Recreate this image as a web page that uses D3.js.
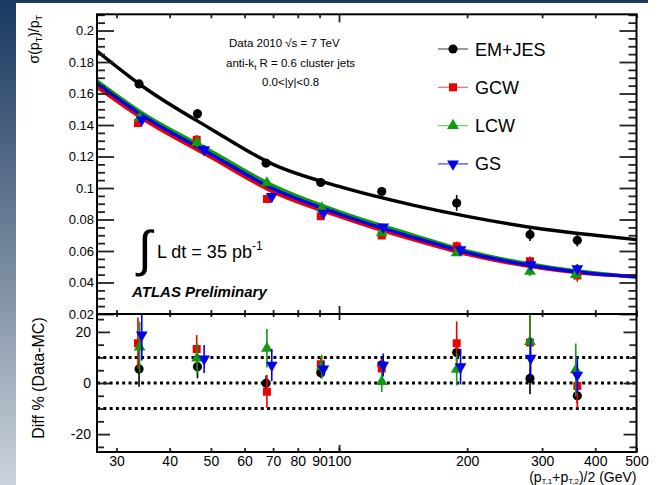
<!DOCTYPE html>
<html>
<head>
<meta charset="utf-8">
<script src="https://cdn.jsdelivr.net/npm/d3@7"></script>
<style>
  body { margin: 0; background: #fff; }
  svg { display: block; }
  text { font-family: "Liberation Sans", Arial, Helvetica, sans-serif; }
</style>
</head>
<body>
<svg></svg>
<script>
const width = 665;
const height = 485;

// --- data ---
const seriesNames = ["EM+JES", "GCW", "LCW", "GS"];

// pT bin centres (GeV), each series drawn slightly shifted
const ptEM  = [33.9, 46.5, 67.4, 90.6, 126, 189, 281, 363];
const ptGCW = [33.7, 46.3, 67.7, 90.6, 126, 189, 281, 363];
const ptLCW = [34.0, 46.4, 67.7, 91.1, 126, 189, 281, 360];
const ptGS  = [34.4, 48.2, 69.5, 91.9, 127, 193, 282, 363];

// sigma(pT)/pT
const resEM  = [0.1661, 0.1471, 0.1158, 0.1035, 0.0978, 0.0905, 0.0704, 0.0668];
const resGCW = [0.1412, 0.1306, 0.0930, 0.0820, 0.0698, 0.0630, 0.0535, 0.0444];
const resLCW = [0.1444, 0.1288, 0.1032, 0.0873, 0.0715, 0.0588, 0.0471, 0.0450];
const resGS  = [0.1433, 0.1243, 0.0947, 0.0841, 0.0753, 0.0609, 0.0514, 0.0488];
const errEM  = [0.002, 0.003, 0.002, 0.002, 0.002, 0.005, 0.004, 0.004];
const errGCW = [0.002, 0.003, 0.002, 0.002, 0.002, 0.003, 0.003, 0.004];
const errLCW = [0.002, 0.003, 0.002, 0.002, 0.002, 0.002, 0.003, 0.003];
const errGS  = [0.002, 0.003, 0.002, 0.002, 0.002, 0.003, 0.003, 0.003];

// Diff % (Data-MC)
const diffEM  = [5.5, 6.4, -0.1, 4.0, 7.1, 11.9, 1.8, -5.0];
const diffGCW = [15.6, 13.3, -3.4, 7.3, 5.7, 15.6, 15.8, -1.2];
const diffLCW = [14.0, 9.7, 13.6, 6.4, 0.5, 5.3, 16.2, 5.1];
const diffGS  = [18.8, 9.4, 7.0, 5.5, 7.0, 6.4, 9.7, 3.1];
const dErrEM  = [7, 4.5, 3, 2, 3, 3, 6.2, 3];
const dErrGCW = [10, 5.5, 6.5, 3, 3.5, 8.5, 10.8, 8.8];
const dErrLCW = [10, 6, 7.5, 4.7, 4, 6.3, 10.8, 10.4];
const dErrGS  = [10, 5.5, 6.3, 3, 4.5, 7, 7.8, 6.9];

// fitted curves, read at these pT values
const fitPt  = [27, 35, 50, 70, 100, 150, 200, 300, 400, 500];
const fitEM  = [0.187, 0.1635, 0.1375, 0.1150, 0.1010, 0.0890, 0.0820, 0.0740, 0.0700, 0.0672];
const fitGCW = [0.164, 0.1430, 0.1195, 0.0975, 0.0820, 0.0670, 0.0578, 0.0490, 0.0452, 0.0440];
const fitLCW = [0.168, 0.1465, 0.1235, 0.1015, 0.0850, 0.0700, 0.0600, 0.0505, 0.0460, 0.0433];
const fitGS  = [0.1665, 0.1450, 0.1215, 0.0995, 0.0835, 0.0685, 0.0590, 0.0497, 0.0455, 0.0437];

// axis ticks
const xTicks = [30, 40, 50, 60, 70, 80, 90, 100, 200, 300, 400, 500];
const yTopTicks = [0.02, 0.04, 0.06, 0.08, 0.1, 0.12, 0.14, 0.16, 0.18, 0.2];
const yTopLabels = ["0.02", "0.04", "0.06", "0.08", "0.1", "0.12", "0.14", "0.16", "0.18", "0.2"];
const yBotTicks = [-20, 0, 20];
const yBotLabels = ["-20", "0", "20"];
const yBotMinor = [-25, -15, -10, -5, 5, 10, 15, 25];
const refLines = [-10, 0, 10];

const colors = ["#000000", "#ee0000", "#109a10", "#0000ee"];
const legendLine = ["#666666", "#ff6a6a", "#6ccc6c", "#4a4aff"];
const symbols = [d3.symbolCircle, d3.symbolSquare, d3.symbolTriangle, d3.symbolTriangle];
const symSize = [66, 64, 60, 60];
const symRot = [0, 0, 0, 180];

const series = seriesNames.map((name, i) => ({
  name: name,
  pt: [ptEM, ptGCW, ptLCW, ptGS][i],
  res: [resEM, resGCW, resLCW, resGS][i],
  err: [errEM, errGCW, errLCW, errGS][i],
  diff: [diffEM, diffGCW, diffLCW, diffGS][i],
  dErr: [dErrEM, dErrGCW, dErrLCW, dErrGS][i],
  fit: [fitEM, fitGCW, fitLCW, fitGS][i]
}));

var svg = d3.select("svg")
  .attr("width", width)
  .attr("height", height);

// background decoration (slide border)
const defs = svg.append("defs");
const grad = defs.append("linearGradient").attr("id", "side")
  .attr("x1", 0).attr("y1", 0).attr("x2", 0).attr("y2", 1);
grad.append("stop").attr("offset", "0%").attr("stop-color", "#1a3860");
grad.append("stop").attr("offset", "50%").attr("stop-color", "#6f8299");
grad.append("stop").attr("offset", "100%").attr("stop-color", "#cdd3dc");
svg.append("rect").attr("x", 0).attr("y", 0).attr("width", 16).attr("height", height)
  .attr("fill", "url(#side)");
svg.append("rect").attr("x", 16).attr("y", 0).attr("width", 632).attr("height", 3)
  .attr("fill", "#1d3a5e");

// scales
const x = d3.scaleLog().domain([27, 500]).range([97, 636.5]);
const yTop = d3.scaleLinear().domain([0.02, 0.2103]).range([314, 14.3]);
const yBot = d3.scaleLinear().domain([-27, 27]).range([452, 314]);

const x0 = x.range()[0], x1 = x.range()[1];

defs.append("clipPath").attr("id", "clipTop").append("rect")
  .attr("x", x0).attr("y", yTop.range()[1])
  .attr("width", x1 - x0).attr("height", yTop.range()[0] - yTop.range()[1]);
defs.append("clipPath").attr("id", "clipBot").append("rect")
  .attr("x", x0).attr("y", yBot.range()[1])
  .attr("width", x1 - x0).attr("height", yBot.range()[0] - yBot.range()[1]);

function styleAxis(g) {
  g.select(".domain").remove();
  g.selectAll(".tick line").attr("stroke", "#222").attr("stroke-width", 1.8);
  g.selectAll(".tick text").attr("font-family", "Liberation Sans, Arial, sans-serif")
    .attr("fill", "#000");
}

// --- top panel ---
const topG = svg.append("g");
const topClip = topG.append("g").attr("clip-path", "url(#clipTop)");

const line = d3.line()
  .x(d => x(d[0]))
  .y(d => yTop(d[1]))
  .curve(d3.curveMonotoneX);

// draw order: LCW, GCW, GS, EM+JES
[2, 1, 3, 0].forEach(i => {
  topClip.append("path")
    .datum(fitPt.map((p, k) => [p, series[i].fit[k]]))
    .attr("fill", "none")
    .attr("stroke", colors[i])
    .attr("stroke-width", 3.4)
    .attr("d", line);
});

function drawPoints(g, yScale, valKey, errKey) {
  series.forEach((s, i) => {
    const pts = s.pt.map((p, k) => ({ p: p, v: s[valKey][k], e: s[errKey][k] }));
    g.selectAll(null).data(pts).enter().append("line")
      .attr("x1", d => x(d.p)).attr("x2", d => x(d.p))
      .attr("y1", d => yScale(d.v - d.e)).attr("y2", d => yScale(d.v + d.e))
      .attr("stroke", colors[i]).attr("stroke-width", 1.6);
    g.selectAll(null).data(pts).enter().append("path")
      .attr("d", d3.symbol().type(symbols[i]).size(symSize[i]))
      .attr("transform", d => `translate(${x(d.p)},${yScale(d.v)}) rotate(${symRot[i]})`)
      .attr("fill", colors[i]);
  });
}
drawPoints(topClip, yTop, "res", "err");

// top panel axes
topG.append("g").attr("transform", `translate(${x0},0)`)
  .call(d3.axisLeft(yTop).tickValues(yTopTicks).tickSize(-17).tickPadding(3)
    .tickFormat((d, i) => yTopLabels[i]))
  .call(styleAxis)
  .selectAll("text").attr("font-size", 13);
const yTopMinor = d3.range(4, 43).filter(k => k % 4 !== 0).map(k => k * 0.005);
topG.append("g").attr("transform", `translate(${x0},0)`)
  .call(d3.axisLeft(yTop).tickValues(yTopMinor).tickSize(-8).tickFormat(""))
  .call(styleAxis);
topG.append("g").attr("transform", `translate(${x1},0)`)
  .call(d3.axisRight(yTop).tickValues(yTopTicks).tickSize(-17).tickFormat(""))
  .call(styleAxis);
topG.append("g").attr("transform", `translate(${x1},0)`)
  .call(d3.axisRight(yTop).tickValues(yTopMinor).tickSize(-8).tickFormat(""))
  .call(styleAxis);

const xSmall = xTicks.filter(v => v !== 100);
topG.append("g").attr("transform", `translate(0,${yTop.range()[1]})`)
  .call(d3.axisTop(x).tickValues(xSmall).tickSize(-4).tickFormat(""))
  .call(styleAxis);
topG.append("g").attr("transform", `translate(0,${yTop.range()[1]})`)
  .call(d3.axisTop(x).tickValues([100]).tickSize(-8).tickFormat(""))
  .call(styleAxis);
topG.append("g").attr("transform", `translate(0,${yTop.range()[0]})`)
  .call(d3.axisBottom(x).tickValues(xSmall).tickSize(-4).tickFormat(""))
  .call(styleAxis);
topG.append("g").attr("transform", `translate(0,${yTop.range()[0]})`)
  .call(d3.axisBottom(x).tickValues([100]).tickSize(-8).tickFormat(""))
  .call(styleAxis);

topG.append("rect")
  .attr("x", x0).attr("y", yTop.range()[1])
  .attr("width", x1 - x0).attr("height", yTop.range()[0] - yTop.range()[1])
  .attr("fill", "none").attr("stroke", "#000").attr("stroke-width", 2);

// y title
const yt = topG.append("text")
  .attr("transform", "translate(39,15) rotate(-90)")
  .attr("text-anchor", "end")
  .attr("font-size", 14);
yt.append("tspan").text("σ(p");
yt.append("tspan").attr("font-size", 9).attr("dy", 3).text("T");
yt.append("tspan").attr("dy", -3).text(")/p");
yt.append("tspan").attr("font-size", 9).attr("dy", 3).text("T");

// annotations
const info = topG.append("g").attr("font-size", 11.5);
info.append("text").attr("x", 229).attr("y", 47).text("Data 2010  √s = 7 TeV");
const ak = info.append("text").attr("x", 226).attr("y", 67);
ak.append("tspan").text("anti-k");
ak.append("tspan").attr("font-size", 8).attr("dy", 3).text("t");
ak.append("tspan").attr("dy", -3).text(" R = 0.6 cluster jets");
info.append("text").attr("x", 262).attr("y", 85.5).text("0.0<|y|<0.8");

topG.append("text").attr("x", 138).attr("y", 266)
  .attr("font-size", 50).attr("font-family", "DejaVu Sans")
  .attr("font-weight", 300).text("∫");
const lum = topG.append("text").attr("x", 157).attr("y", 258).attr("font-size", 18);
lum.append("tspan").text("L dt = 35 pb");
lum.append("tspan").attr("font-size", 12).attr("dy", -8).text("-1");

topG.append("text").attr("x", 132).attr("y", 297)
  .attr("font-size", 15).attr("font-weight", "bold").attr("font-style", "italic")
  .text("ATLAS Preliminary");

// legend
const legend = topG.append("g");
seriesNames.forEach((name, i) => {
  const ly = 49 + i * 38.3;
  legend.append("line")
    .attr("x1", 438).attr("x2", 468).attr("y1", ly).attr("y2", ly)
    .attr("stroke", legendLine[i]).attr("stroke-width", 1.3);
  legend.append("path")
    .attr("d", d3.symbol().type(symbols[i]).size(symSize[i]))
    .attr("transform", `translate(453,${ly}) rotate(${symRot[i]})`)
    .attr("fill", colors[i]);
  legend.append("text")
    .attr("x", 475).attr("y", ly + 6.5)
    .attr("font-size", 18)
    .text(name);
});

// --- bottom panel ---
const botG = svg.append("g");
const botClip = botG.append("g").attr("clip-path", "url(#clipBot)");

botClip.selectAll(".ref").data(refLines).enter().append("line")
  .attr("x1", x0).attr("x2", x1)
  .attr("y1", d => yBot(d)).attr("y2", d => yBot(d))
  .attr("stroke", "#000").attr("stroke-width", 3)
  .attr("stroke-dasharray", "3,3.3");

drawPoints(botClip, yBot, "diff", "dErr");

botG.append("g").attr("transform", `translate(${x0},0)`)
  .call(d3.axisLeft(yBot).tickValues(yBotTicks).tickSize(-13).tickPadding(6)
    .tickFormat((d, i) => yBotLabels[i]))
  .call(styleAxis)
  .selectAll("text").attr("font-size", 14);
botG.append("g").attr("transform", `translate(${x0},0)`)
  .call(d3.axisLeft(yBot).tickValues(yBotMinor).tickSize(-7).tickFormat(""))
  .call(styleAxis);
botG.append("g").attr("transform", `translate(${x1},0)`)
  .call(d3.axisRight(yBot).tickValues(yBotTicks).tickSize(-13).tickFormat(""))
  .call(styleAxis);
botG.append("g").attr("transform", `translate(${x1},0)`)
  .call(d3.axisRight(yBot).tickValues(yBotMinor).tickSize(-7).tickFormat(""))
  .call(styleAxis);

botG.append("g").attr("transform", `translate(0,${yBot.range()[1]})`)
  .call(d3.axisTop(x).tickValues(xSmall).tickSize(-3).tickFormat(""))
  .call(styleAxis);
botG.append("g").attr("transform", `translate(0,${yBot.range()[1]})`)
  .call(d3.axisTop(x).tickValues([100]).tickSize(-6).tickFormat(""))
  .call(styleAxis);
botG.append("g").attr("transform", `translate(0,${yBot.range()[0]})`)
  .call(d3.axisBottom(x).tickValues(xTicks).tickSize(-4).tickPadding(4)
    .tickFormat(d3.format("d")))
  .call(styleAxis)
  .selectAll("text").attr("font-size", 14);
botG.append("g").attr("transform", `translate(0,${yBot.range()[0]})`)
  .call(d3.axisBottom(x).tickValues([100]).tickSize(-7).tickFormat(""))
  .call(styleAxis);

botG.append("rect")
  .attr("x", x0).attr("y", yBot.range()[1])
  .attr("width", x1 - x0).attr("height", yBot.range()[0] - yBot.range()[1])
  .attr("fill", "none").attr("stroke", "#000").attr("stroke-width", 2);

botG.append("text")
  .attr("transform", "translate(44,378) rotate(-90)")
  .attr("text-anchor", "middle")
  .attr("font-size", 16)
  .text("Diff % (Data-MC)");

const xt = botG.append("text")
  .attr("x", x1).attr("y", 482)
  .attr("text-anchor", "end")
  .attr("font-size", 14);
xt.append("tspan").text("(p");
xt.append("tspan").attr("font-size", 8).attr("dy", 1.5).text("T,1");
xt.append("tspan").attr("dy", -1.5).text("+p");
xt.append("tspan").attr("font-size", 8).attr("dy", 1.5).text("T,2");
xt.append("tspan").attr("dy", -1.5).text(")/2 (GeV)");
</script>
</body>
</html>
